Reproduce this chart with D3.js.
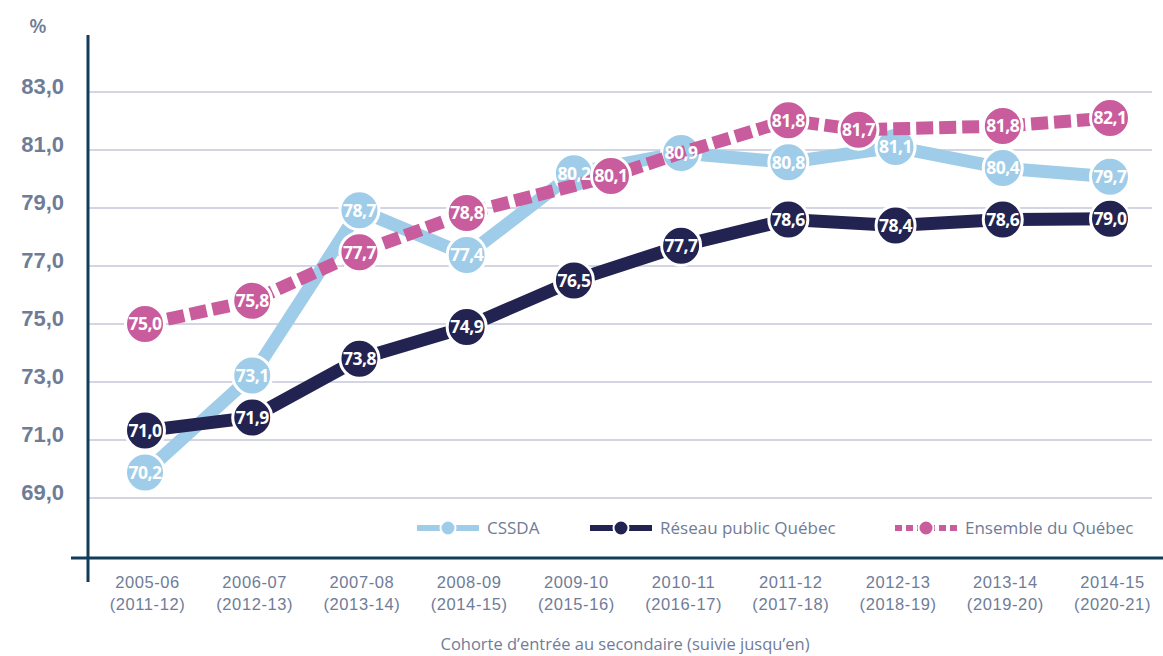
<!DOCTYPE html>
<html>
<head>
<meta charset="utf-8">
<script src="https://cdn.jsdelivr.net/npm/d3@7"></script>
<style>
  body { margin: 0; background: #fff; }
  svg { display: block; font-family: "Open Sans", sans-serif; }
</style>
</head>
<body>
<svg id="chart" width="1163" height="656"></svg>
<script>
// cohorts (entry year / followed until)
var cohorts = ["2005-06", "2006-07", "2007-08", "2008-09", "2009-10",
               "2010-11", "2011-12", "2012-13", "2013-14", "2014-15"]
var suivies = ["(2011-12)", "(2012-13)", "(2013-14)", "(2014-15)", "(2015-16)",
               "(2016-17)", "(2017-18)", "(2018-19)", "(2019-20)", "(2020-21)"]

var cssda   = [70.2, 73.1, 78.7, 77.4, 80.2, 80.9, 80.8, 81.1, 80.4, 79.7]
var reseau  = [71.0, 71.9, 73.8, 74.9, 76.5, 77.7, 78.6, 78.4, 78.6, 79.0]
var quebec  = [75.0, 75.8, 77.7, 78.8, 80.1, 80.9, 81.8, 81.7, 81.8, 82.1]

var yTicks = [69, 71, 73, 75, 77, 79, 81, 83]

var series = [
  { name: "CSSDA", values: cssda, color: "#9fcde9", dash: null, legendDash: null },
  { name: "Réseau public Québec", values: reseau, color: "#222350", dash: null, legendDash: null },
  { name: "Ensemble du Québec", values: quebec, color: "#c95c9d", dash: "17,6", legendDash: "7,4" }
]

var svg = d3.select("#chart")
var textColor = "#6f7c97"
var axisColor = "#123c5a"
var fmt = function (v) { return d3.format(".1f")(v).replace(".", ",") }

var x = d3.scalePoint()
        .domain(cohorts)
        .range([145, 1110])

var y = d3.scaleLinear()
        .domain([67, 83])
        .range([556, 92])

// gridlines
svg.append("g")
        .selectAll("line")
        .data(yTicks)
        .enter()
        .append("line")
        .attr("x1", 88).attr("x2", 1152)
        .attr("y1", function (d) { return y(d) })
        .attr("y2", function (d) { return y(d) })
        .attr("stroke", "#c5c9d8")
        .attr("stroke-width", 1.5)

// y axis labels (baseline sits on the gridline)
var yAxis = svg.append("g")
        .attr("transform", "translate(64,0)")
        .call(d3.axisLeft(y).tickValues(yTicks).tickSize(0).tickFormat(fmt))
yAxis.select(".domain").remove()
yAxis.selectAll("text")
        .attr("x", 0)
        .attr("dy", 1)
        .attr("fill", textColor)
        .attr("font-size", 22)
        .attr("font-weight", 600)

svg.append("text")
        .attr("x", 38).attr("y", 33)
        .attr("text-anchor", "middle")
        .attr("fill", textColor)
        .attr("font-size", 20)
        .attr("font-weight", 600)
        .text("%")

// axis lines
svg.append("line")
        .attr("x1", 88).attr("x2", 88)
        .attr("y1", 35).attr("y2", 582)
        .attr("stroke", axisColor).attr("stroke-width", 3)
svg.append("line")
        .attr("x1", 71).attr("x2", 1163)
        .attr("y1", y(67) + 2).attr("y2", y(67) + 2)
        .attr("stroke", axisColor).attr("stroke-width", 3)

// x axis labels
var xAxis = svg.append("g")
        .attr("transform", "translate(0," + (y(67) + 2) + ")")
        .call(d3.axisBottom(x).tickSize(0).tickFormat(""))
xAxis.select(".domain").remove()
xAxis.selectAll(".tick").each(function (d, i) {
        var t = d3.select(this).append("text")
                .attr("text-anchor", "middle")
                .attr("fill", textColor)
                .attr("font-size", 16.5)
                .attr("letter-spacing", 0.6)
        t.append("tspan").attr("x", 2).attr("y", 30).text(d)
        t.append("tspan").attr("x", 2).attr("y", 52).text(suivies[i])
})

svg.append("text")
        .attr("x", 625).attr("y", 650)
        .attr("text-anchor", "middle")
        .attr("fill", textColor)
        .attr("font-size", 16.5)
        .text("Cohorte d\u2019entrée au secondaire (suivie jusqu\u2019en)")

// legend
var legendX = [417, 590, 895]
var legend = svg.append("g")
        .selectAll("g")
        .data(series)
        .enter()
        .append("g")
        .attr("transform", function (d, i) { return "translate(" + legendX[i] + ",528)" })
legend.append("line")
        .attr("x1", 0).attr("x2", 62)
        .attr("stroke", function (d) { return d.color })
        .attr("stroke-width", 6)
        .attr("stroke-dasharray", function (d) { return d.legendDash })
legend.append("circle")
        .attr("cx", 31).attr("r", 7.5)
        .attr("fill", function (d) { return d.color })
        .attr("stroke", "#fff").attr("stroke-width", 2)
legend.append("text")
        .attr("x", 70).attr("dy", "0.35em")
        .attr("fill", textColor)
        .attr("font-size", 17)
        .text(function (d) { return d.name })

// marker positions: a marker that nearly coincides with an earlier series' one
// is pushed sideways (toward the side where the two lines are closer);
// an identical value shares the earlier marker
var R = 19.5
series.forEach(function (s, si) {
        s.pts = s.values.map(function (v, i) {
                var p = { v: v, x: x(cohorts[i]), y: y(v), show: true }
                series.slice(0, si).forEach(function (t) {
                        var diff = Math.abs(v - t.values[i])
                        if (diff < 0.05) { p.show = false; return }
                        if (diff < 0.65) {
                                var lg = i > 0 ? Math.abs(s.values[i - 1] - t.values[i - 1]) : Infinity
                                var rg = i < cohorts.length - 1 ? Math.abs(s.values[i + 1] - t.values[i + 1]) : Infinity
                                p.x += (rg < lg ? 1 : -1) * 1.9 * R
                        }
                })
                return p
        })
})

// stacked markers in the same column that still touch are spread apart vertically
var minGap = 2 * R + 3
cohorts.forEach(function (c, i) {
        var col = series.map(function (s) { return s.pts[i] })
                .filter(function (p) { return p.show })
        col.forEach(function (a, ai) {
                col.slice(ai + 1).forEach(function (b) {
                        if (Math.abs(a.x - b.x) > R) return
                        var dy = b.y - a.y
                        if (Math.abs(dy) >= minGap) return
                        var push = (minGap - Math.abs(dy)) / 2 * (dy < 0 ? -1 : 1)
                        a.y -= push
                        b.y += push
                })
        })
})

var line = d3.line()
        .x(function (d) { return d.x })
        .y(function (d) { return d.y })

series.forEach(function (s) {
        var g = svg.append("g")
        g.append("path")
                .datum(s.pts)
                .attr("d", line)
                .attr("fill", "none")
                .attr("stroke", s.color)
                .attr("stroke-width", 13)
                .attr("stroke-dasharray", s.dash)

        g.selectAll("circle")
                .data(s.pts.filter(function (p) { return p.show }))
                .enter()
                .append("circle")
                .attr("cx", function (d) { return d.x })
                .attr("cy", function (d) { return d.y })
                .attr("r", R)
                .attr("fill", s.color)
                .attr("stroke", "#fff")
                .attr("stroke-width", 3)
})

// value labels stay readable above every line
var labels = svg.append("g")
series.forEach(function (s) {
        labels.append("g")
                .selectAll("text")
                .data(s.pts.filter(function (p) { return p.show }))
                .enter()
                .append("text")
                .attr("x", function (d) { return d.x })
                .attr("y", function (d) { return d.y })
                .attr("text-anchor", "middle")
                .attr("dy", "0.36em")
                .attr("fill", "#fff")
                .attr("font-size", 17.5)
                .attr("font-weight", 700)
                .attr("letter-spacing", -0.5)
                .text(function (d) { return fmt(d.v) })
})
</script>
</body>
</html>
